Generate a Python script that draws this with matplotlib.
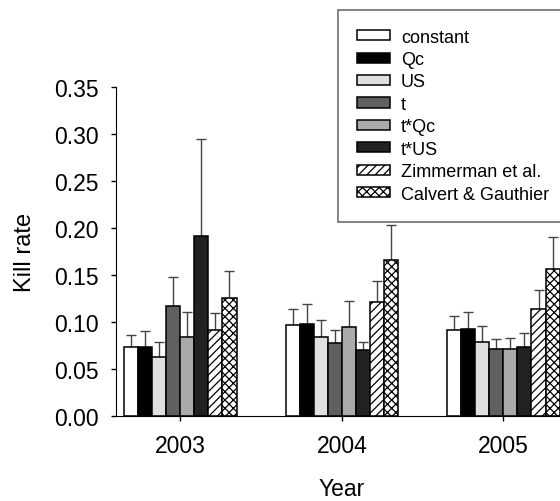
import matplotlib
matplotlib.use('Agg')
import matplotlib.pyplot as plt
import numpy as np

plt.rcParams['font.family'] = ['Liberation Sans', 'DejaVu Sans']
plt.rcParams['hatch.linewidth'] = 0.9

years = ['2003', '2004', '2005']
models = ['constant', 'Qc', 'US', 't', 't*Qc', 't*US',
          'Zimmerman et al.', 'Calvert & Gauthier']

# kill rate per model, one value per year
constant = [0.073, 0.097, 0.091]
qc = [0.073, 0.098, 0.092]
us = [0.063, 0.084, 0.079]
t = [0.117, 0.077, 0.071]
t_qc = [0.084, 0.095, 0.071]
t_us = [0.192, 0.070, 0.073]
zimmerman = [0.091, 0.121, 0.114]
calvert = [0.125, 0.166, 0.156]

# upper end of the error bars
constant_hi = [0.086, 0.114, 0.106]
qc_hi = [0.090, 0.119, 0.111]
us_hi = [0.078, 0.102, 0.096]
t_hi = [0.148, 0.091, 0.082]
t_qc_hi = [0.111, 0.122, 0.083]
t_us_hi = [0.295, 0.079, 0.088]
zimmerman_hi = [0.109, 0.144, 0.134]
calvert_hi = [0.154, 0.203, 0.190]

values = [constant, qc, us, t, t_qc, t_us, zimmerman, calvert]
highs = [constant_hi, qc_hi, us_hi, t_hi, t_qc_hi, t_us_hi, zimmerman_hi, calvert_hi]

colors = ['white', 'black', '#e0e0e0', '#606060', '#aaaaaa', '#222222', 'white', 'white']
hatches = [None, None, None, None, None, None, '////', 'xxxx']

fig = plt.figure(figsize=(5.6, 5.02), dpi=100)
ax = fig.add_axes([0.2063, 0.170, 0.808, 0.654])

x = np.arange(len(years))
w = 0.087
n = len(models)
for i in range(n):
    pos = x + (i - (n - 1) / 2) * w
    v = np.array(values[i])
    up = np.array(highs[i]) - v
    ax.errorbar(pos, v, yerr=[np.zeros_like(v), up], fmt='none',
                ecolor='#454545', elinewidth=1.0, capsize=3.3, capthick=1.0, zorder=1)
    ax.bar(pos, v, width=w, color=colors[i], edgecolor='black', linewidth=1.1,
           hatch=hatches[i], label=models[i], zorder=2)

ax.set_xlim(-0.401, 2.4)
ax.set_ylim(0, 0.35)
ax.set_xticks(x)
ax.set_xticklabels(years)
ax.set_yticks(np.arange(0, 0.351, 0.05))
ax.set_yticklabels(['%.2f' % v for v in np.arange(0, 0.351, 0.05)])
ax.spines['top'].set_visible(False)
ax.spines['right'].set_visible(False)
ax.tick_params(axis='both', direction='out', length=3.5, width=1, labelsize=16.5)
ax.tick_params(axis='x', pad=9.5)
ax.tick_params(axis='y', pad=8.5)
ax.set_xlabel('Year', fontsize=16.5, labelpad=14.5)
ax.set_ylabel('Kill rate', fontsize=17, labelpad=13)

# legend box runs off the right edge of the figure, as in the original
leg = fig.legend(loc='upper left', bbox_to_anchor=(338 / 560, 0.5, 0.45, 1 - 10.7 / 502 - 0.5),
                 bbox_transform=fig.transFigure, mode='expand', borderaxespad=0, fontsize=13,
                 handlelength=1.83, handleheight=0.5, handletextpad=0.6,
                 labelspacing=0.3, borderpad=1.05, fancybox=False, framealpha=1)
leg.get_frame().set_edgecolor('#707070')
leg.get_frame().set_linewidth(1.2)

plt.savefig('out.png', dpi=100)
